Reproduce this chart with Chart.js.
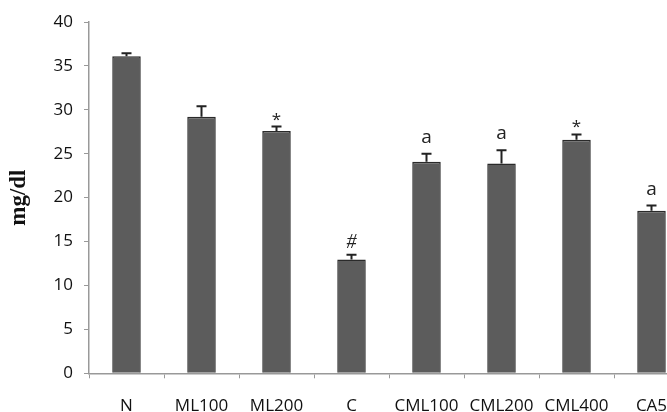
<!DOCTYPE html>
<html>
<head>
<meta charset="utf-8">
<script src="https://cdn.jsdelivr.net/npm/chart.js@4.4.1/dist/chart.umd.min.js"></script>
<style>
html,body{margin:0;padding:0;background:#fff;overflow:hidden;}
#wrap{width:667px;height:412px;overflow:hidden;position:relative;}
canvas{display:block;}
</style>
</head>
<body>
<div id="wrap"><canvas id="c" width="700" height="412"></canvas></div>
<script>
const categories = ['N','ML100','ML200','C','CML100','CML200','CML400','CA5'];
const values = [36.1, 29.2, 27.6, 12.95, 24.1, 23.9, 26.6, 18.5];
const errors = [0.35, 1.2, 0.5, 0.55, 0.9, 1.5, 0.6, 0.6];
const marks = ['', '', '*', '#', 'a', 'a', '*', 'a'];
const yTicks = [0,5,10,15,20,25,30,35,40];

const errPlugin = {
  id: 'errMarks',
  afterDatasetsDraw(chart) {
    const ctx = chart.ctx;
    const meta = chart.getDatasetMeta(0);
    const ys = chart.scales.y;
    ctx.save();
    meta.data.forEach((bar, i) => {
      const x = bar.x;
      const yTop = ys.getPixelForValue(values[i] + errors[i]);
      ctx.strokeStyle = '#222';
      ctx.lineWidth = 2;
      ctx.beginPath();
      ctx.moveTo(x, bar.y);
      ctx.lineTo(x, yTop);
      ctx.moveTo(x - 5, yTop);
      ctx.lineTo(x + 5, yTop);
      ctx.stroke();
      const m = marks[i];
      if (m) {
        ctx.fillStyle = '#222';
        ctx.textAlign = 'center';
        ctx.textBaseline = 'alphabetic';
        let off = 12;
        if (m === '*') { ctx.font = '17px "Open Sans"'; off = 2; }
        else if (m === '#') { ctx.font = 'italic 20px "Liberation Serif"'; off = 7; }
        else { ctx.font = '19px "Open Sans"'; off = 11; }
        ctx.fillText(m, x, yTop - off);
      }
    });
    ctx.restore();
  }
};

new Chart(document.getElementById('c'), {
  type: 'bar',
  data: {
    labels: categories,
    datasets: [{
      data: values,
      backgroundColor: '#5c5c5c',
      borderColor: '#2a2a2a',
      borderWidth: 1.5,
      barPercentage: 0.38,
      categoryPercentage: 1.0
    }]
  },
  options: {
    responsive: false,
    animation: false,
    layout: { padding: { top: 22, right: 11, left: 0, bottom: 0 } },
    plugins: { legend: { display: false }, tooltip: { enabled: false } },
    scales: {
      x: {
        grid: { display: true, drawOnChartArea: false, drawTicks: true, tickLength: 5, offset: true, color: '#999' },
        border: { color: '#999', width: 1.5 },
        ticks: { color: '#111', font: { family: '"Open Sans"', size: 17 }, padding: 18, maxRotation: 0, autoSkip: false },
        afterFit(s) { s.height = 38.7; }
      },
      y: {
        min: 0, max: 40,
        afterBuildTicks(s) { s.ticks = yTicks.map(v => ({ value: v })); },
        grid: { display: true, drawOnChartArea: false, drawTicks: true, tickLength: 5, color: '#999' },
        border: { color: '#999', width: 1.5 },
        ticks: { color: '#111', font: { family: '"Open Sans"', size: 17 }, padding: 11 },
        title: { display: true, text: 'mg/dl', color: '#111', font: { family: '"Liberation Serif"', size: 23, weight: 'bold' }, padding: { top: 5, bottom: 0 } },
        afterFit(s) { s.width = 89; }
      }
    }
  },
  plugins: [errPlugin]
});
</script>
</body>
</html>
